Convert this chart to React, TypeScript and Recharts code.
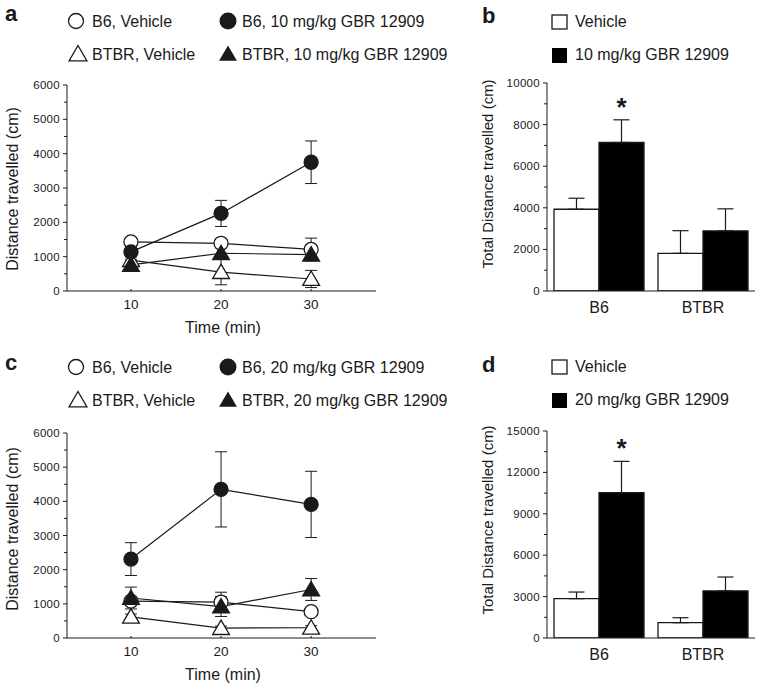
import React from 'react';
import { LineChart, Line, BarChart, Bar, XAxis, YAxis, ErrorBar, LabelList } from 'recharts';

const FONT = '"Liberation Sans", Arial, sans-serif';
const INK = '#1a1a1a';

const TIMES = [10, 20, 30];

// panel a – 10 mg/kg, per 10 min bin
const A_B6_VEH = [1430, 1390, 1210];
const A_B6_VEH_ERR = [110, 110, 330];
const A_B6_DRUG = [1140, 2260, 3750];
const A_B6_DRUG_ERR = [150, 380, 620];
const A_BTBR_VEH = [900, 550, 350];
const A_BTBR_VEH_ERR = [180, 370, 250];
const A_BTBR_DRUG = [760, 1100, 1060];
const A_BTBR_DRUG_ERR = [150, 160, 150];

// panel c – 20 mg/kg
const C_B6_VEH = [1080, 1050, 770];
const C_B6_VEH_ERR = [120, 290, 100];
const C_B6_DRUG = [2310, 4350, 3910];
const C_B6_DRUG_ERR = [480, 1100, 970];
const C_BTBR_VEH = [620, 290, 300];
const C_BTBR_VEH_ERR = [80, 60, 60];
const C_BTBR_DRUG = [1170, 920, 1420];
const C_BTBR_DRUG_ERR = [320, 290, 320];

// totals (panels b, d)
const STRAINS = ['B6', 'BTBR'];
const B_VEH = [3930, 1810];
const B_VEH_ERR = [530, 1090];
const B_DRUG = [7140, 2890];
const B_DRUG_ERR = [1090, 1060];
const D_VEH = [2850, 1110];
const D_VEH_ERR = [480, 360];
const D_DRUG = [10530, 3410];
const D_DRUG_ERR = [2270, 1010];
const STARS = ['*', ''];

const LINE_Y_TICKS = [0, 500, 1000, 1500, 2000, 2500, 3000, 3500, 4000, 4500, 5000, 5500, 6000];
const B_Y_TICKS = [0, 1000, 2000, 3000, 4000, 5000, 6000, 7000, 8000, 9000, 10000];
const D_Y_TICKS = [0, 1500, 3000, 4500, 6000, 7500, 9000, 10500, 12000, 13500, 15000];

const buildLine = (b6v, b6vE, b6d, b6dE, btv, btvE, btd, btdE) =>
  TIMES.map((t, i) => ({
    time: t,
    b6Veh: b6v[i], b6VehErr: b6vE[i],
    b6Drug: b6d[i], b6DrugErr: b6dE[i],
    btbrVeh: btv[i], btbrVehErr: btvE[i],
    btbrDrug: btd[i], btbrDrugErr: btdE[i],
  }));

const buildBars = (veh, vehE, drug, drugE) =>
  STRAINS.map((s, i) => ({
    strain: s,
    veh: veh[i], vehErr: [0, vehE[i]],
    drug: drug[i], drugErr: [0, drugE[i]],
    star: STARS[i],
  }));

const dataA = buildLine(A_B6_VEH, A_B6_VEH_ERR, A_B6_DRUG, A_B6_DRUG_ERR, A_BTBR_VEH, A_BTBR_VEH_ERR, A_BTBR_DRUG, A_BTBR_DRUG_ERR);
const dataC = buildLine(C_B6_VEH, C_B6_VEH_ERR, C_B6_DRUG, C_B6_DRUG_ERR, C_BTBR_VEH, C_BTBR_VEH_ERR, C_BTBR_DRUG, C_BTBR_DRUG_ERR);
const dataB = buildBars(B_VEH, B_VEH_ERR, B_DRUG, B_DRUG_ERR);
const dataD = buildBars(D_VEH, D_VEH_ERR, D_DRUG, D_DRUG_ERR);

// y ticks: minor marks between labelled ones
const yTick = (every: number) => (p: any) => {
  const v = p.payload.value;
  const major = v % every === 0;
  return (
    <g key={`yt-${v}`}>
      <line x1={p.x - (major ? 4 : 3)} x2={p.x} y1={p.y} y2={p.y} stroke={INK} strokeWidth={1} />
      {major && (
        <text x={p.x - 7} y={p.y + 4} textAnchor="end" fontFamily={FONT} fontSize={11.5} letterSpacing={0.3} fill={INK}>
          {v}
        </text>
      )}
    </g>
  );
};

const xNumTick = (p: any) => (
  <g key={`xt-${p.payload.value}`}>
    <line x1={p.x} x2={p.x} y1={p.y} y2={p.y - 2} stroke={INK} />
    <text x={p.x} y={p.y + 18} textAnchor="middle" fontFamily={FONT} fontSize={13.5} fill={INK}>
      {p.payload.value}
    </text>
  </g>
);

const xCatTick = (p: any) => (
  <text key={`xc-${p.payload.value}`} x={p.x} y={p.y + 22} textAnchor="middle" fontFamily={FONT} fontSize={16} fill={INK}>
    {p.payload.value}
  </text>
);

const circleDot = (filled: boolean) => (p: any) => (
  <circle key={`c-${p.dataKey}-${p.index}`} cx={p.cx} cy={p.cy} r={7} fill={filled ? INK : '#fff'} stroke={INK} strokeWidth={1.3} />
);

const triPath = (cx: number, cy: number, s: number) =>
  `M${cx},${cy - s} L${cx + s * 1.05},${cy + s * 0.8} L${cx - s * 1.05},${cy + s * 0.8} Z`;

const triDot = (filled: boolean) => (p: any) => (
  <path key={`t-${p.dataKey}-${p.index}`} d={triPath(p.cx, p.cy, 8)} fill={filled ? INK : '#fff'} stroke={INK} strokeWidth={1.3} />
);

const starLabel = (vals: number[], errs: number[]) => (p: any) => {
  if (!p.value) return null;
  const per = p.height / vals[p.index];
  const top = p.y - errs[p.index] * per;
  return (
    <text key={`st-${p.index}`} x={p.x + p.width / 2} y={top - 4} textAnchor="middle" fontFamily={FONT} fontWeight="bold" fontSize={26} fill={INK}>
      *
    </text>
  );
};

const LinePanel = ({ data, top, height, plotTop, plotBottom }: any) => (
  <div style={{ position: 'absolute', left: 0, top }}>
    <LineChart width={400} height={height} data={data} margin={{ top: plotTop, right: 24, left: 7, bottom: height - plotBottom - 30 }}>
      <XAxis dataKey="time" type="number" domain={[2.9, 37.2]} allowDataOverflow ticks={TIMES} height={30}
        stroke={INK} tickLine={false} tickSize={0} tickMargin={0} tick={xNumTick} />
      <YAxis type="number" domain={[0, 6000]} allowDataOverflow ticks={LINE_Y_TICKS} interval={0} width={60}
        stroke={INK} tickLine={false} tickSize={0} tickMargin={0} tick={yTick(1000)} />
      <Line dataKey="btbrVeh" stroke={INK} strokeWidth={1.2} dot={triDot(false)} isAnimationActive={false}>
        <ErrorBar dataKey="btbrVehErr" direction="y" width={6} stroke={INK} strokeWidth={1} />
      </Line>
      <Line dataKey="b6Veh" stroke={INK} strokeWidth={1.2} dot={circleDot(false)} isAnimationActive={false}>
        <ErrorBar dataKey="b6VehErr" direction="y" width={6} stroke={INK} strokeWidth={1} />
      </Line>
      <Line dataKey="btbrDrug" stroke={INK} strokeWidth={1.2} dot={triDot(true)} isAnimationActive={false}>
        <ErrorBar dataKey="btbrDrugErr" direction="y" width={6} stroke={INK} strokeWidth={1} />
      </Line>
      <Line dataKey="b6Drug" stroke={INK} strokeWidth={1.2} dot={circleDot(true)} isAnimationActive={false}>
        <ErrorBar dataKey="b6DrugErr" direction="y" width={6} stroke={INK} strokeWidth={1} />
      </Line>
    </LineChart>
  </div>
);

const BarPanel = ({ data, top, height, plotTop, plotBottom, max, ticks, every, vals, errs }: any) => (
  <div style={{ position: 'absolute', left: 460, top }}>
    <BarChart width={297} height={height} data={data} barSize={45} barGap={0}
      margin={{ top: plotTop, right: 2, left: 27, bottom: height - plotBottom - 30 }}>
      <XAxis dataKey="strain" height={30} stroke={INK} tickLine={false} tickSize={0} tickMargin={0} tick={xCatTick} />
      <YAxis type="number" domain={[0, max]} allowDataOverflow ticks={ticks} interval={0} width={60}
        stroke={INK} tickLine={false} tickSize={0} tickMargin={0} tick={yTick(every)} />
      <Bar dataKey="veh" fill="#fff" stroke={INK} strokeWidth={1.3} isAnimationActive={false}>
        <ErrorBar dataKey="vehErr" direction="y" width={8} stroke={INK} strokeWidth={1.2} />
      </Bar>
      <Bar dataKey="drug" fill="#000" stroke={INK} strokeWidth={1.3} isAnimationActive={false}>
        <ErrorBar dataKey="drugErr" direction="y" width={8} stroke={INK} strokeWidth={1.2} />
        <LabelList dataKey="star" content={starLabel(vals, errs)} />
      </Bar>
    </BarChart>
  </div>
);

const T = (props: any) => <text fontFamily={FONT} fill={INK} {...props} />;

const LineLegend = ({ y, dose }: { y: number; dose: string }) => (
  <g>
    <circle cx={76} cy={y - 6} r={7.5} fill="#fff" stroke={INK} strokeWidth={1.3} />
    <T x={92} y={y} fontSize={16}>B6, Vehicle</T>
    <circle cx={228} cy={y - 6} r={8.5} fill={INK} />
    <T x={242} y={y} fontSize={16}>{`B6, ${dose} mg/kg GBR 12909`}</T>
    <path d={triPath(78, y + 27, 8.5)} fill="#fff" stroke={INK} strokeWidth={1.3} />
    <T x={92} y={y + 33} fontSize={16}>BTBR, Vehicle</T>
    <path d={triPath(228, y + 27, 8.5)} fill={INK} />
    <T x={242} y={y + 33} fontSize={16}>{`BTBR, ${dose} mg/kg GBR 12909`}</T>
  </g>
);

const BarLegend = ({ y, dose }: { y: number; dose: string }) => (
  <g>
    <rect x={552} y={y - 12} width={15} height={14} fill="#fff" stroke={INK} strokeWidth={1.3} />
    <T x={575} y={y} fontSize={16}>Vehicle</T>
    <rect x={552} y={y + 21} width={15} height={15} fill="#000" />
    <T x={575} y={y + 33} fontSize={16}>{`${dose} mg/kg GBR 12909`}</T>
  </g>
);

const VLabel = ({ x, y, text, size }: any) => (
  <T transform={`translate(${x},${y}) rotate(-90)`} textAnchor="middle" fontSize={size}>{text}</T>
);

export default function App() {
  return (
    <div style={{ position: 'absolute', left: 0, top: 0, width: 757, height: 686, background: '#fff', overflow: 'hidden' }}>
      <LinePanel data={dataA} top={0} height={340} plotTop={85} plotBottom={291} />
      <LinePanel data={dataC} top={340} height={346} plotTop={93} plotBottom={298} />
      <BarPanel data={dataB} top={0} height={340} plotTop={83} plotBottom={291} max={10000} ticks={B_Y_TICKS} every={2000} vals={B_DRUG} errs={B_DRUG_ERR} />
      <BarPanel data={dataD} top={340} height={346} plotTop={91} plotBottom={298} max={15000} ticks={D_Y_TICKS} every={3000} vals={D_DRUG} errs={D_DRUG_ERR} />
      <svg width={757} height={686} style={{ position: 'absolute', left: 0, top: 0, pointerEvents: 'none' }}>
        <T x={5} y={21} fontSize={22} fontWeight="bold">a</T>
        <T x={482} y={23} fontSize={22} fontWeight="bold">b</T>
        <T x={5} y={370} fontSize={22} fontWeight="bold">c</T>
        <T x={482} y={372} fontSize={22} fontWeight="bold">d</T>
        <LineLegend y={27} dose="10" />
        <LineLegend y={373} dose="20" />
        <BarLegend y={27} dose="10" />
        <BarLegend y={372} dose="20" />
        <VLabel x={18} y={189} size={16} text="Distance travelled (cm)" />
        <VLabel x={18} y={529} size={16} text="Distance travelled (cm)" />
        <VLabel x={493} y={174} size={15} text="Total Distance travelled (cm)" />
        <VLabel x={493} y={520} size={15} text="Total Distance travelled (cm)" />
        <T x={223} y={333} fontSize={16} textAnchor="middle">Time (min)</T>
        <T x={223} y={680} fontSize={16} textAnchor="middle">Time (min)</T>
      </svg>
    </div>
  );
}
